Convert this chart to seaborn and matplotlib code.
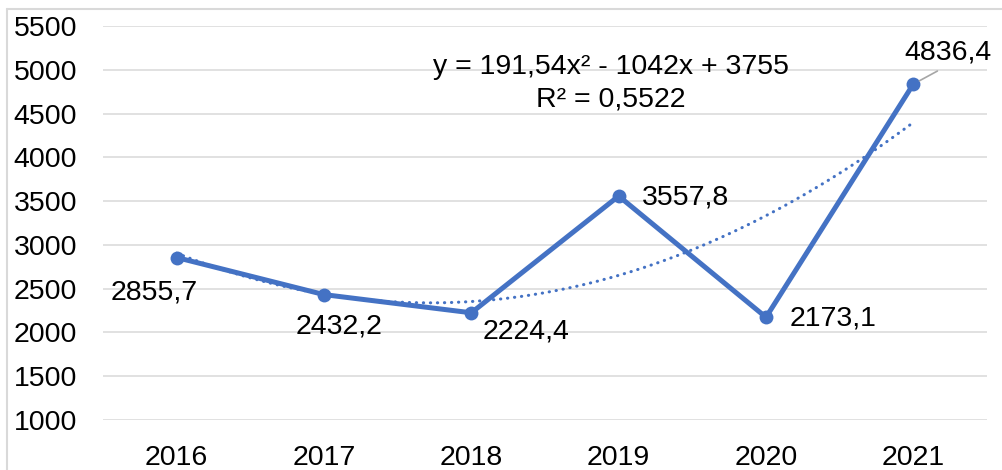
import numpy as np
import pandas as pd
import matplotlib
matplotlib.use("Agg")
import matplotlib.pyplot as plt
import seaborn as sns
from matplotlib.lines import Line2D

years = ["2016", "2017", "2018", "2019", "2020", "2021"]
values = [2855.7, 2432.2, 2224.4, 3557.8, 2173.1, 4836.4]
value_labels = ["2855,7", "2432,2", "2224,4", "3557,8", "2173,1", "4836,4"]
y_ticks = [1000, 1500, 2000, 2500, 3000, 3500, 4000, 4500, 5000, 5500]
equation = "y = 191,54x² - 1042x + 3755"
r2_text = "R² = 0,5522"

sns.set_theme(style="white")
plt.rcParams["font.family"] = ["Liberation Sans", "DejaVu Sans"]

W, H = 1003, 470
fig = plt.figure(figsize=(W / 100, H / 100), dpi=100)
ax = fig.add_axes([103 / W, 1 - 420 / H, (987 - 103) / W, (420 - 26) / H])

blue = "#4472C4"
FS = 20.5
df = pd.DataFrame({"pos": np.arange(len(years)), "value": values})
sns.lineplot(data=df, x="pos", y="value", ax=ax, color=blue, linewidth=3.6,
             marker="o", markersize=10, markeredgewidth=0, zorder=3)

# polynomial (order 2) trendline fitted to the data, x = 1..6 as in Excel
xs = np.arange(1, len(values) + 1)
coef = np.polyfit(xs, values, 2)
xd = np.linspace(1, len(values), 200)
yd = np.polyval(coef, xd)
ax.plot(xd - 1, yd, color=blue, linewidth=2.2, zorder=4,
        linestyle=(0, (0.1, 2.2)), dash_capstyle="round")

ax.set_xlim(-0.5, len(years) - 0.5)
ax.set_ylim(1000, 5500)
ax.set_yticks(y_ticks)
ax.set_yticklabels([str(t) for t in y_ticks])
ax.set_xticks(np.arange(len(years)))
ax.set_xticklabels(years)
ax.set_xlabel("")
ax.set_ylabel("")
ax.grid(axis="y", color="#D9D9D9", linewidth=1.1)
ax.grid(axis="x", visible=False)
for s in ax.spines.values():
    s.set_visible(False)
ax.tick_params(axis="y", length=0, pad=18.5, labelsize=FS, labelcolor="#000000")
ax.tick_params(axis="x", length=0, pad=18, labelsize=FS, labelcolor="#000000")

offsets = [(-22, -35), (15, -32), (55, -19), (67, -1), (67, -1), (35, 32)]
for i, (v, lab, off) in enumerate(zip(values, value_labels, offsets)):
    kw = {}
    if i == len(values) - 1:
        kw["arrowprops"] = dict(arrowstyle="-", color="#A6A6A6", lw=1.2,
                                shrinkA=4, shrinkB=5, relpos=(0.5, 0.0))
    ax.annotate(lab, xy=(i, v), xytext=off, textcoords="offset pixels",
                ha="center", va="center", fontsize=FS, color="#000000",
                zorder=5, **kw)

fig.text(611 / W, 1 - 67 / H, equation, ha="center", va="center",
         fontsize=FS, color="#000000")
fig.text(611 / W, 1 - 100 / H, r2_text, ha="center", va="center",
         fontsize=FS, color="#000000")

# chart area border (left and top visible)
fig.add_artist(Line2D([7 / W, 7 / W], [0, 1 - 9 / H], transform=fig.transFigure,
                      color="#D9D9D9", linewidth=1.5))
fig.add_artist(Line2D([7 / W, 1], [1 - 9 / H, 1 - 9 / H], transform=fig.transFigure,
                      color="#D9D9D9", linewidth=1.5))

fig.savefig("out.png", dpi=100)
